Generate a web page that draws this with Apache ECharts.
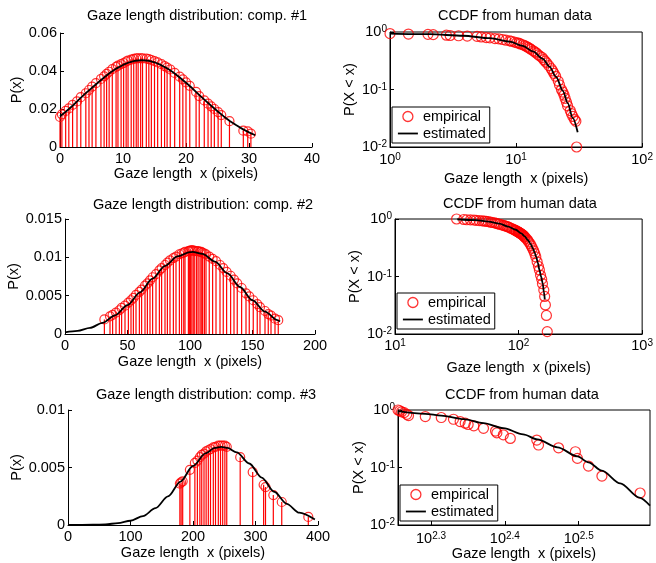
<!DOCTYPE html>
<html>
<head>
<meta charset="utf-8">
<script src="https://cdn.jsdelivr.net/npm/echarts@6/dist/echarts.min.js"></script>
<style>html,body{margin:0;padding:0;background:#fff}#c{width:656px;height:563px}</style>
</head>
<body>
<div id="c"></div>
<script>
// ---------- DATA ----------
// Component #1 : stem plot (empirical pdf) + estimated pdf
const C1_STEM_X = [0, 0.3, 0.9, 1.4, 2.0, 2.7, 3.3, 4.1, 4.6, 5.1, 5.7, 6.5, 7.0, 7.4, 7.8, 8.3, 8.9, 9.2, 9.7, 10.1, 10.5, 10.8, 11.3, 11.7, 12.1, 12.4, 12.8, 13.1, 13.7, 14.1, 14.5, 15.0, 15.5, 16.1, 16.6, 17.0, 17.5, 18.2, 19.0, 19.5, 20.0, 20.6, 21.6, 22.1, 22.9, 23.5, 24.0, 24.5, 25.1, 25.6, 26.9, 29.1, 29.8, 30.3];
const C1_STEM_Y = [0.0158, 0.0172, 0.0190, 0.0203, 0.0222, 0.0240, 0.0262, 0.0283, 0.0300, 0.0318, 0.0336, 0.0358, 0.0372, 0.0385, 0.0396, 0.0410, 0.0422, 0.0428, 0.0436, 0.0442, 0.0450, 0.0455, 0.0460, 0.0464, 0.0466, 0.0467, 0.0467, 0.0466, 0.0465, 0.0462, 0.0458, 0.0452, 0.0445, 0.0436, 0.0426, 0.0418, 0.0408, 0.0390, 0.0370, 0.0356, 0.0340, 0.0322, 0.0290, 0.0268, 0.0245, 0.0228, 0.0214, 0.0200, 0.0184, 0.0168, 0.0136, 0.0086, 0.0082, 0.0070];
const C1_FIT_X = [0, 1, 2, 3, 4, 5, 6, 7, 8, 9, 10, 11, 12, 13, 14, 15, 16, 17, 18, 19, 20, 21, 22, 23, 24, 25, 26, 27, 28, 29, 30, 31];
const C1_FIT_Y = [0.0161, 0.0188, 0.0217, 0.0249, 0.0281, 0.0309, 0.0338, 0.0366, 0.0392, 0.0414, 0.0432, 0.0446, 0.0454, 0.0457, 0.0454, 0.0446, 0.0432, 0.0414, 0.0392, 0.0366, 0.0338, 0.0309, 0.0277, 0.0247, 0.0217, 0.0188, 0.0161, 0.0136, 0.0114, 0.0094, 0.0077, 0.0062];
// Component #1 : CCDF
const C1_CCDF_X = [1, 1.4, 2, 2.2, 2.8, 3, 3.5, 4.1, 4.9, 5.3, 5.8, 6.2, 6.8, 7.3, 7.8, 8.3, 8.9, 9.2, 9.7, 10.1, 10.5, 10.8, 11.3, 11.7, 12.1, 12.4, 12.8, 13.1, 13.7, 14.1, 14.5, 15.0, 15.5, 16.1, 16.6, 17.0, 17.5, 18.2, 19.0, 19.5, 20.0, 20.6, 21.6, 22.1, 22.9, 23.5, 24.0, 24.5, 25.1, 25.6, 26.9, 27.5, 28.2, 29.1, 29.8, 30.2];
const C1_CCDF_Y = [0.94, 0.92, 0.91, 0.90, 0.88, 0.87, 0.86, 0.85, 0.84, 0.82, 0.80, 0.79, 0.77, 0.76, 0.74, 0.72, 0.70, 0.69, 0.67, 0.65, 0.64, 0.62, 0.60, 0.58, 0.56, 0.54, 0.52, 0.50, 0.47, 0.45, 0.43, 0.40, 0.38, 0.36, 0.33, 0.31, 0.29, 0.26, 0.23, 0.21, 0.19, 0.17, 0.14, 0.12, 0.10, 0.09, 0.08, 0.07, 0.06, 0.052, 0.043, 0.038, 0.034, 0.030, 0.028, 0.01];
const C1_EST_X = [1, 2.07, 3.8, 6.2, 8.9, 11.3, 13.6, 16.3, 18.4, 20.8, 23.5, 25.7, 28.1, 30.8];
const C1_EST_Y = [0.94, 0.915, 0.86, 0.78, 0.68, 0.575, 0.46, 0.34, 0.25, 0.165, 0.095, 0.058, 0.032, 0.018];

// Component #2
const C2_STEM_X = [31.5, 36, 38.1, 40.8, 43.5, 45.3, 48, 50.7, 52.8, 54.7, 56.8, 59.5, 61.3, 64, 65.9, 68, 70.1, 72.8, 75.5, 77.3, 80, 81.9, 84, 86.7, 88.8, 91.5, 93.3, 95, 96, 98.7, 99.5, 100.5, 101.5, 102.6, 103.8, 105.3, 106.5, 108, 109, 110.1, 111.5, 112.8, 115.4, 118.1, 120.8, 124, 126.6, 129.3, 132.5, 135.2, 137.8, 141.3, 144.8, 147.4, 150.6, 153.8, 156, 160, 162.6, 164.8, 168, 170.6];
const C2_STEM_Y = [0.0019, 0.0023, 0.0025, 0.0028, 0.0031, 0.0034, 0.0037, 0.0041, 0.0044, 0.0047, 0.0051, 0.0055, 0.0058, 0.0063, 0.0066, 0.0070, 0.0074, 0.0078, 0.0083, 0.0086, 0.0090, 0.0093, 0.0096, 0.0099, 0.0101, 0.0104, 0.0105, 0.0106, 0.0107, 0.0108, 0.0108, 0.0109, 0.0109, 0.0109, 0.0108, 0.0108, 0.0108, 0.0107, 0.0107, 0.0106, 0.0105, 0.0104, 0.0101, 0.0098, 0.0095, 0.0090, 0.0086, 0.0081, 0.0076, 0.0071, 0.0066, 0.0060, 0.0053, 0.0049, 0.0044, 0.0039, 0.0035, 0.0030, 0.0026, 0.0024, 0.0020, 0.0018];
const C2_FIT_X = [0, 10, 20, 30, 40, 50, 60, 70, 80, 90, 100, 102, 110, 120, 130, 140, 150, 160, 170, 172];
const C2_FIT_Y = [0.0002, 0.0004, 0.0008, 0.00145, 0.00243, 0.00377, 0.00542, 0.00721, 0.00888, 0.01012, 0.01068, 0.0107, 0.01044, 0.00944, 0.00791, 0.00613, 0.0044, 0.00292, 0.0018, 0.00162];
const C2_CCDF_X = C2_STEM_X;
const C2_CCDF_Y = [1.0, 0.98, 0.97, 0.965, 0.96, 0.95, 0.94, 0.93, 0.92, 0.91, 0.90, 0.88, 0.87, 0.855, 0.84, 0.825, 0.81, 0.79, 0.775, 0.76, 0.745, 0.73, 0.715, 0.69, 0.675, 0.655, 0.64, 0.63, 0.62, 0.60, 0.595, 0.585, 0.58, 0.57, 0.56, 0.55, 0.54, 0.53, 0.52, 0.505, 0.49, 0.48, 0.455, 0.43, 0.40, 0.37, 0.34, 0.31, 0.28, 0.25, 0.22, 0.18, 0.15, 0.13, 0.105, 0.09, 0.075, 0.058, 0.045, 0.032, 0.021, 0.011];
const C2_EST_X = [31.9, 45, 57.2, 70, 82.4, 95, 105.2, 112, 119, 125, 130.5, 135, 138.7, 143, 147.5, 152, 156.8, 160, 163];
const C2_EST_Y = [0.99, 0.955, 0.90, 0.83, 0.735, 0.65, 0.563, 0.50, 0.43, 0.37, 0.309, 0.26, 0.221, 0.175, 0.13, 0.10, 0.076, 0.055, 0.04];

// Component #3
const C3_STEM_X = [179, 181, 183.5, 195, 203, 207, 211, 214, 217.6, 221, 224.5, 228, 232.5, 236, 240.5, 244, 247.5, 251, 254, 275.5, 295.5, 313, 316, 328.5, 342, 384.5];
const C3_STEM_Y = [0.0036, 0.0037, 0.0038, 0.0048, 0.0054, 0.0056, 0.0059, 0.0061, 0.0062, 0.0064, 0.0065, 0.0066, 0.00675, 0.0068, 0.0069, 0.0069, 0.0069, 0.0069, 0.0068, 0.0059, 0.0046, 0.0035, 0.0033, 0.0026, 0.0020, 0.0007];
const C3_FIT_X = [0, 40, 60, 80, 100, 120, 140, 160, 180, 200, 220, 235, 245, 255, 270, 290, 310, 330, 350, 370, 395];
const C3_FIT_Y = [0.000002, 0.00002, 0.00006, 0.000155, 0.00037, 0.00078, 0.00147, 0.00249, 0.00378, 0.00513, 0.00623, 0.0067, 0.0068, 0.0067, 0.00632, 0.00535, 0.00412, 0.00289, 0.00184, 0.00107, 0.00047];
const C3_CCDF_X = [180, 181, 182, 183.5, 185, 186, 196, 206, 214, 218.5, 222, 224, 228, 235, 244, 245, 250, 255.5, 277.5, 279, 297, 313, 315, 326, 340, 383];
const C3_CCDF_Y = [1.0, 0.97, 0.93, 0.90, 0.84, 0.80, 0.77, 0.74, 0.69, 0.63, 0.59, 0.56, 0.53, 0.48, 0.43, 0.40, 0.37, 0.32, 0.30, 0.246, 0.22, 0.188, 0.144, 0.106, 0.071, 0.036];
const C3_EST_X = [180, 196, 206, 221, 235, 250, 266, 278, 296, 315, 326, 340, 360, 382, 395];
const C3_EST_Y = [0.959, 0.859, 0.798, 0.693, 0.592, 0.483, 0.377, 0.308, 0.224, 0.156, 0.123, 0.088, 0.053, 0.030, 0.0217];

// Tick exponents for the last CCDF x axis
const C3_CCDF_XTICK_EXP = [2.3, 2.4, 2.5];

// Text
const PDF_TITLES = ['Gaze length distribution: comp. #1', 'Gaze length distribution: comp. #2', 'Gaze length distribution: comp. #3'];
const CCDF_TITLE = 'CCDF from human data';
const X_NAME = 'Gaze length  x (pixels)';
const PDF_Y_NAME = 'P(x)';
const CCDF_Y_NAME = 'P(X < x)';
const LEGEND_NAMES = ['empirical', 'estimated'];

// ---------- CHART ----------
const FONT = '"Liberation Sans", Arial, Helvetica, sans-serif';
const FS = 14.5;
const zip = (xs, ys) => xs.map((x, i) => [x, ys[i]]);

const supRich = {
  b: {fontSize: FS, fontFamily: FONT, color: '#000', verticalAlign: 'bottom', lineHeight: 15},
  s: {fontSize: 10, fontFamily: FONT, color: '#000', verticalAlign: 'top', lineHeight: 10, padding: [0, 0, 5, 0]}
};
function supFmt(v) {
  const e = Math.round(Math.log10(v) * 10) / 10;
  return '{b|10}{s|' + e + '}';
}
const txt = {fontSize: FS, color: '#000', fontFamily: FONT};
const axLine = {show: true, onZero: false, lineStyle: {color: '#000', width: 1}};
const axTick = {show: true, inside: true, length: 4, lineStyle: {color: '#000', width: 1}};

const grids = [
  {left: 60, top: 33, width: 252, height: 114},
  {left: 390, top: 32, width: 253, height: 115, show: true, borderColor: '#000', borderWidth: 1, backgroundColor: 'transparent'},
  {left: 65, top: 219, width: 250, height: 115},
  {left: 395, top: 219, width: 251, height: 115, show: true, borderColor: '#000', borderWidth: 1, backgroundColor: 'transparent'},
  {left: 68, top: 410, width: 250, height: 115},
  {left: 398, top: 410, width: 252, height: 115, show: true, borderColor: '#000', borderWidth: 1, backgroundColor: 'transparent'}
];

function pdfX(g, max, interval, gap) {
  return {type: 'value', gridIndex: g, min: 0, max: max, interval: interval, name: X_NAME, nameLocation: 'middle', nameGap: gap,
    nameTextStyle: txt, axisLine: axLine, axisTick: axTick, axisLabel: Object.assign({margin: 4}, txt), splitLine: {show: false}};
}
function pdfY(g, max, interval, gap) {
  return {type: 'value', gridIndex: g, min: 0, max: max, interval: interval, name: PDF_Y_NAME, nameLocation: 'middle', nameGap: gap,
    nameTextStyle: txt, axisLine: axLine, axisTick: axTick, axisLabel: Object.assign({margin: 3}, txt), splitLine: {show: false}};
}
function logX(g, min, max, gap, margin, custom) {
  const lab = {formatter: supFmt, rich: supRich, margin: margin};
  const tick = Object.assign({}, axTick);
  if (custom) { lab.customValues = custom; tick.customValues = custom; }
  return {type: 'log', logBase: 10, gridIndex: g, min: min, max: max, name: X_NAME, nameLocation: 'middle', nameGap: gap,
    nameTextStyle: txt, axisLine: axLine, axisTick: tick, axisLabel: lab, splitLine: {show: false}, minorTick: {show: false}};
}
function logY(g, gap) {
  return {type: 'log', logBase: 10, gridIndex: g, min: 0.01, max: 1, name: CCDF_Y_NAME, nameLocation: 'middle', nameGap: gap,
    nameTextStyle: txt, axisLine: axLine, axisTick: axTick, axisLabel: {formatter: supFmt, rich: supRich, margin: 3}, splitLine: {show: false}};
}

const xTicks6 = C3_CCDF_XTICK_EXP.map(e => Math.pow(10, e));

const xAxes = [
  pdfX(0, 40, 10, 19),
  logX(1, 1, 100, 24, 5),
  pdfX(2, 200, 50, 20),
  logX(3, 10, 1000, 26, 4),
  pdfX(4, 400, 100, 20),
  logX(5, 180, 395, 21, 6, xTicks6)
];
const yAxes = [
  pdfY(0, 0.06, 0.02, 36),
  logY(1, 33),
  pdfY(2, 0.015, 0.005, 44),
  logY(3, 33),
  pdfY(4, 0.01, 0.005, 44),
  logY(5, 31)
];

function stems(xs, ys, idx) {
  return {
    type: 'custom', name: 'stems' + idx, xAxisIndex: idx, yAxisIndex: idx, z: 2, silent: true,
    data: zip(xs, ys),
    renderItem: function (params, api) {
      const top = api.coord([api.value(0), api.value(1)]);
      const base = api.coord([api.value(0), 0]);
      return {type: 'line', shape: {x1: base[0], y1: base[1], x2: top[0], y2: top[1]}, style: {stroke: '#ff0000', lineWidth: 1.2}};
    }
  };
}
function circles(name, xs, ys, idx, size) {
  return {type: 'scatter', name: name, xAxisIndex: idx, yAxisIndex: idx, z: 3, silent: true,
    symbol: 'circle', symbolSize: size, data: zip(xs, ys),
    itemStyle: {color: 'rgba(255,0,0,0)', borderColor: '#ff0000', borderWidth: 1.2}};
}
function curve(name, xs, ys, idx, smooth) {
  return {type: 'line', name: name, xAxisIndex: idx, yAxisIndex: idx, z: 4, silent: true,
    symbol: 'none', showSymbol: false, smooth: smooth, smoothMonotone: 'x', data: zip(xs, ys),
    lineStyle: {color: '#000', width: 1.8}, itemStyle: {color: '#000'}};
}

const series = [
  stems(C1_STEM_X, C1_STEM_Y, 0), circles('pdf1', C1_STEM_X, C1_STEM_Y, 0, 9), curve('fit1', C1_FIT_X, C1_FIT_Y, 0, false),
  circles(LEGEND_NAMES[0], C1_CCDF_X, C1_CCDF_Y, 1, 10), curve(LEGEND_NAMES[1], C1_EST_X, C1_EST_Y, 1, 0.3),
  stems(C2_STEM_X, C2_STEM_Y, 2), circles('pdf2', C2_STEM_X, C2_STEM_Y, 2, 9), curve('fit2', C2_FIT_X, C2_FIT_Y, 2, 0.3),
  circles(LEGEND_NAMES[0], C2_CCDF_X, C2_CCDF_Y, 3, 10), curve(LEGEND_NAMES[1], C2_EST_X, C2_EST_Y, 3, 0.3),
  stems(C3_STEM_X, C3_STEM_Y, 4), circles('pdf3', C3_STEM_X, C3_STEM_Y, 4, 9), curve('fit3', C3_FIT_X, C3_FIT_Y, 4, 0.3),
  circles(LEGEND_NAMES[0], C3_CCDF_X, C3_CCDF_Y, 5, 10), curve(LEGEND_NAMES[1], C3_EST_X, C3_EST_Y, 5, 0.3)
];

function legendAt(left, top) {
  return {
    left: left, top: top, orient: 'vertical', selectedMode: false,
    data: [
      {name: LEGEND_NAMES[0], icon: 'circle', itemStyle: {color: 'rgba(255,0,0,0)', borderColor: '#ff0000', borderWidth: 1.3}},
      {name: LEGEND_NAMES[1], itemStyle: {opacity: 0}, lineStyle: {color: '#000', width: 1.8}}
    ],
    itemWidth: 20, itemHeight: 10, itemGap: 2, padding: [2, 4, 2, 5],
    backgroundColor: '#fff', borderColor: '#000', borderWidth: 1, borderRadius: 0,
    textStyle: txt
  };
}

function title(text, left, top) {
  return {text: text, left: left, top: top, padding: 0, textStyle: {fontSize: FS, fontWeight: 'normal', color: '#000', fontFamily: FONT}};
}

const option = {
  animation: false,
  backgroundColor: '#fff',
  title: [
    title(PDF_TITLES[0], 87, 8), title(CCDF_TITLE, 438, 8),
    title(PDF_TITLES[1], 93, 197), title(CCDF_TITLE, 443, 196),
    title(PDF_TITLES[2], 96, 387), title(CCDF_TITLE, 445, 387)
  ],
  legend: [legendAt(392, 107), legendAt(397, 293), legendAt(400, 485)],
  grid: grids,
  xAxis: xAxes,
  yAxis: yAxes,
  series: series
};

const chart = echarts.init(document.getElementById('c'), null, {renderer: 'canvas'});
chart.setOption(option);
</script>
</body>
</html>
